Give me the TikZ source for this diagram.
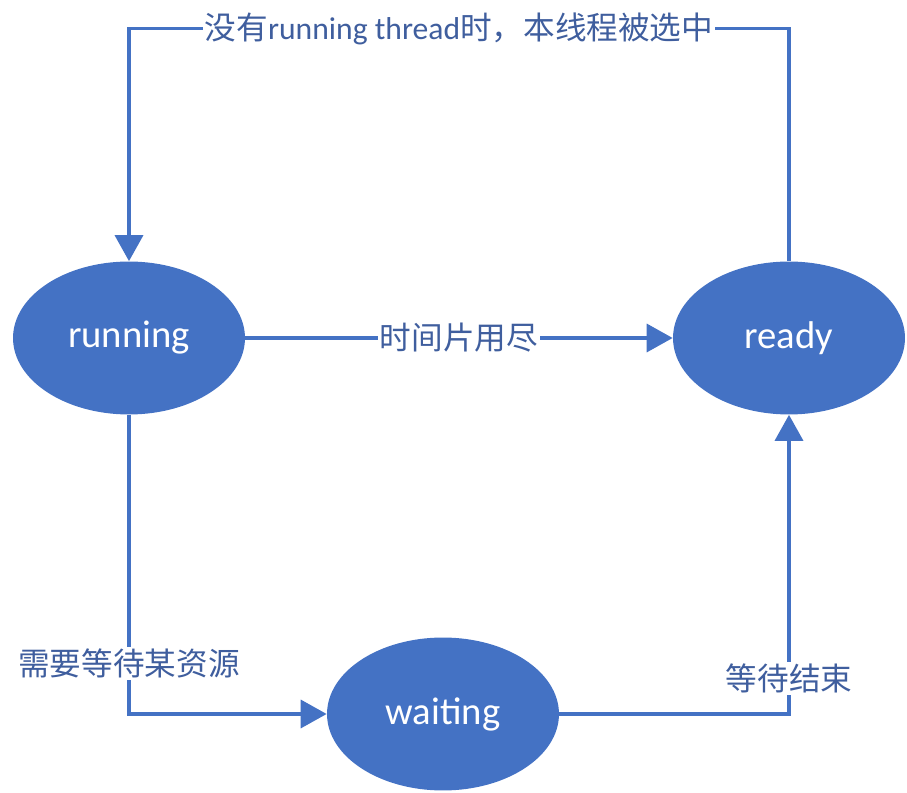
\documentclass[tikz,border=0pt]{standalone}
\usepackage{fontspec}
\setmainfont{Carlito}
\newfontfamily\cjk{Noto Sans CJK SC}
\usetikzlibrary{shapes.geometric,arrows.meta,calc}
\definecolor{stateblue}{HTML}{4472C4}
\definecolor{labelblue}{HTML}{3F5E9E}

\begin{document}
\begin{tikzpicture}[x=0.02cm,y=-0.02cm]
% Looks of the states, the transitions and their labels.
\tikzstyle{state}=[ellipse,fill=stateblue,draw=none,text=white,minimum width=4.64cm,
minimum height=3.06cm,inner sep=0pt,font=\fontsize{22}{26}\selectfont]
\tikzstyle{trans}=[draw=stateblue,line width=2pt,-{Triangle[width=0.56cm,length=0.52cm]}]
\tikzstyle{lbl}=[fill=white,text=labelblue,inner sep=1pt,font=\cjk\fontsize{18}{21}\selectfont]

\useasboundingbox (0,0) rectangle (907,793);

% This draws the three states.
\node[state] (run) at (129,338) {running};
\node[state] (rdy) at (789,338) {ready};
\node[state] (wait) at (443,714) {waiting};

% This draws the transitions.
\draw[trans] (rdy.north) -- ($(rdy.north)+(0,-232.5)$)
  -- node[lbl] {没有{\rmfamily running thread}时，本线程被选中} ($(run.north)+(0,-232.5)$) -- (run.north);
\draw[trans] (run) -- node[lbl] {时间片用尽} (rdy);
\draw[trans] (run.south) |- node[lbl,pos=0.416] {需要等待某资源} (wait.west);
\draw[trans] (wait.east) -| node[lbl,pos=0.559] {等待结束} (rdy.south);

\end{tikzpicture}
\end{document}
